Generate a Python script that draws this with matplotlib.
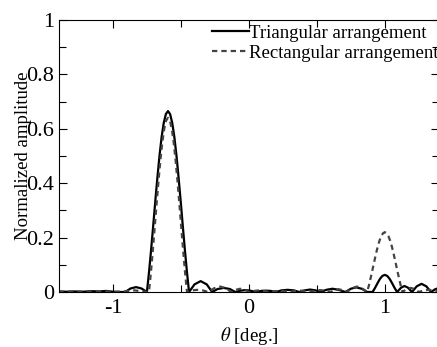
import matplotlib
matplotlib.use("Agg")
import matplotlib.pyplot as plt
from matplotlib.ticker import MultipleLocator, FuncFormatter

# Triangular arrangement (solid)
tri_theta = [
    -1.40, -1.34, -1.28, -1.22, -1.16, -1.10, -1.05, -1.00, -0.96,
    -0.91, -0.87, -0.83, -0.79,
    -0.750, -0.7345, -0.719, -0.7035, -0.688, -0.6725, -0.657, -0.6415, -0.626, -0.6105,
    -0.595, -0.5795, -0.564, -0.5485, -0.533, -0.5175, -0.502, -0.4865, -0.471, -0.4555, -0.440,
    -0.40, -0.355, -0.31, -0.27,
    -0.23, -0.185, -0.14, -0.10,
    -0.06, -0.025, 0.01, 0.05,
    0.09, 0.125, 0.16, 0.20,
    0.24, 0.285, 0.33, 0.37,
    0.41, 0.45, 0.49, 0.53,
    0.57, 0.615, 0.66, 0.71,
    0.75, 0.79, 0.83, 0.87, 0.91,
    0.928, 0.946, 0.964, 0.982, 1.000, 1.018, 1.036, 1.054, 1.072, 1.090,
    1.12, 1.145, 1.17, 1.20,
    1.235, 1.27, 1.305, 1.34,
    1.37, 1.40,
]
tri_amp = [
    0.002, 0.001, 0.002, 0.001, 0.003, 0.002, 0.004, 0.001, 0.000,
    0.000, 0.013, 0.018, 0.013,
    0.000, 0.073, 0.156, 0.245, 0.336, 0.423, 0.503, 0.571, 0.622, 0.654,
    0.665, 0.654, 0.622, 0.571, 0.503, 0.423, 0.336, 0.245, 0.156, 0.073, 0.000,
    0.028, 0.040, 0.028, 0.000,
    0.011, 0.015, 0.011, 0.000,
    0.005, 0.007, 0.005, 0.000,
    0.004, 0.005, 0.004, 0.000,
    0.006, 0.008, 0.006, 0.000,
    0.006, 0.009, 0.006, 0.000,
    0.008, 0.012, 0.008, 0.000,
    0.012, 0.017, 0.012, 0.000, 0.000,
    0.015, 0.032, 0.048, 0.059, 0.063, 0.059, 0.048, 0.032, 0.015, 0.000,
    0.016, 0.022, 0.016, 0.000,
    0.021, 0.030, 0.021, 0.000,
    0.010, 0.015,
]

# Rectangular arrangement (dashed)
rect_theta = [
    -1.40, -1.30, -1.20, -1.10, -1.00, -0.92, -0.84, -0.78,
    -0.735, -0.721, -0.707, -0.693, -0.679, -0.665, -0.651, -0.637, -0.623, -0.609,
    -0.595, -0.581, -0.567, -0.553, -0.539, -0.525, -0.511, -0.497, -0.483, -0.469, -0.455,
    -0.42, -0.38, -0.34, -0.30,
    -0.255, -0.21, -0.17, -0.13,
    -0.095, -0.065, -0.03, 0.00,
    0.04, 0.075, 0.11, 0.15,
    0.19, 0.225, 0.26, 0.30,
    0.34, 0.375, 0.41, 0.45,
    0.49, 0.525, 0.56, 0.60,
    0.63, 0.66, 0.69, 0.72,
    0.76, 0.795, 0.83, 0.87,
    0.883, 0.896, 0.909, 0.922, 0.935, 0.948, 0.961, 0.974, 0.987,
    1.000, 1.013, 1.026, 1.039, 1.052, 1.065, 1.078, 1.091, 1.104, 1.117, 1.130,
    1.16, 1.19, 1.22, 1.25,
    1.29, 1.32, 1.36, 1.40,
]
rect_amp = [
    0.001, 0.002, 0.001, 0.003, 0.001, 0.002, 0.006, 0.002,
    0.000, 0.070, 0.150, 0.236, 0.323, 0.407, 0.484, 0.549, 0.599, 0.630,
    0.640, 0.630, 0.599, 0.549, 0.484, 0.407, 0.323, 0.236, 0.150, 0.070, 0.000,
    0.006, 0.008, 0.006, 0.000,
    0.014, 0.020, 0.014, 0.000,
    0.008, 0.012, 0.008, 0.000,
    0.004, 0.006, 0.004, 0.000,
    0.003, 0.004, 0.003, 0.000,
    0.004, 0.005, 0.004, 0.000,
    0.005, 0.007, 0.005, 0.000,
    0.007, 0.010, 0.007, 0.000,
    0.014, 0.020, 0.014, 0.000,
    0.024, 0.052, 0.081, 0.111, 0.140, 0.167, 0.189, 0.206, 0.216,
    0.220, 0.216, 0.206, 0.189, 0.167, 0.140, 0.111, 0.081, 0.052, 0.024, 0.000,
    0.011, 0.015, 0.011, 0.000,
    0.006, 0.008, 0.006, 0.003,
]

plt.rcParams["font.family"] = ["Liberation Serif", "DejaVu Serif"]
plt.rcParams["mathtext.fontset"] = "stix"

fig = plt.figure(figsize=(4.37, 3.47), dpi=100)
ax = fig.add_axes([0.134, 0.1585, 0.871, 0.784])

ax.plot(tri_theta, tri_amp, color="black", linewidth=1.6, label="Triangular arrangement")
ax.plot(rect_theta, rect_amp, color="#444444", linewidth=1.6, dashes=(2.4, 1.8),
        label="Rectangular arrangement")

ax.set_xlim(-1.4, 1.4)
ax.set_ylim(0, 1)
ax.xaxis.set_major_locator(MultipleLocator(1))
ax.xaxis.set_minor_locator(MultipleLocator(0.5))
ax.yaxis.set_major_locator(MultipleLocator(0.2))
ax.yaxis.set_minor_locator(MultipleLocator(0.1))
ax.yaxis.set_major_formatter(FuncFormatter(lambda v, p: f"{v:g}"))
ax.xaxis.set_major_formatter(FuncFormatter(lambda v, p: f"{v:g}"))
ax.tick_params(which="both", direction="in", top=True, right=True, width=0.8)
ax.tick_params(which="major", length=6, labelsize=16, pad=3)
ax.tick_params(axis="x", which="major", pad=5)
ax.tick_params(which="minor", length=5)

ax.set_xlabel(r"$\theta$ [deg.]", fontsize=13.5, labelpad=5)
ax.set_ylabel("Normalized amplitude", fontsize=13.5, labelpad=-4)

ax.legend(loc="upper left", bbox_to_anchor=(0.403, 0.983), frameon=False,
          fontsize=13.5, handlelength=2.0, handletextpad=0.0, borderpad=0,
          labelspacing=0.16, borderaxespad=0)

fig.savefig("out.png", dpi=100)
